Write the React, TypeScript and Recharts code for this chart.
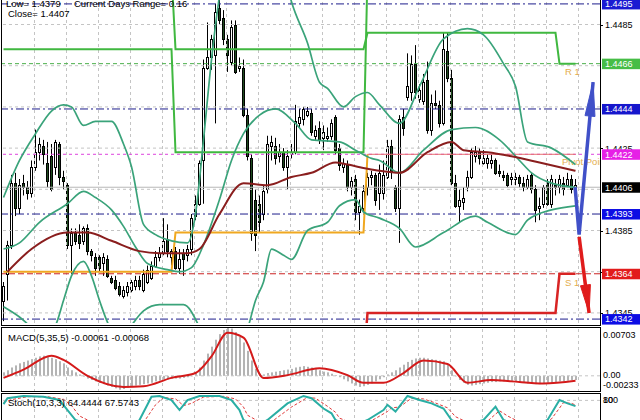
import React from 'react';
import { ComposedChart, Bar, Line, XAxis, YAxis, ReferenceLine } from 'recharts';

// ---------- price bars (M30), bar index 0..143 ----------
const barOpen = [1.4351,1.4364,1.4378,1.4408,1.4396,1.4408,1.4406,1.4403,1.4416,1.4423,
1.4426,1.4418,1.4421,1.4416,1.4427,1.4411,1.4407,1.4378,1.4384,1.4383,
1.4380,1.4386,1.4375,1.4372,1.4372,1.4369,1.4371,1.4362,1.4361,1.4358,
1.4353,1.4355,1.4356,1.4358,1.4361,1.4356,1.4360,1.4362,1.4368,1.4372,
1.4374,1.4381,1.4372,1.4375,1.4367,1.4374,1.4373,1.4376,1.4392,1.4398,
1.4419,1.4464,1.4469,1.4470,1.4493,1.4488,1.4478,1.4467,1.4485,1.4464,
1.4464,1.4441,1.4420,1.4400,1.4398,1.4393,1.4405,1.4426,1.4426,1.4421,
1.4423,1.4416,1.4422,1.4423,1.4437,1.4439,1.4441,1.4442,1.4431,1.4435,
1.4430,1.4430,1.4431,1.4440,1.4425,1.4416,1.4417,1.4406,1.4410,1.4394,
1.4396,1.4406,1.4411,1.4412,1.4403,1.4403,1.4411,1.4426,1.4406,1.4396,
1.4440,1.4450,1.4452,1.4466,1.4449,1.4448,1.4458,1.4434,1.4447,1.4446,
1.4437,1.4472,1.4459,1.4408,1.4397,1.4399,1.4406,1.4411,1.4421,1.4423,
1.4418,1.4418,1.4418,1.4419,1.4414,1.4412,1.4412,1.4410,1.4410,1.4411,
1.4408,1.4406,1.4412,1.4405,1.4396,1.4398,1.4408,1.4398,1.4407,1.4406,
1.4408,1.4407,1.4410,1.4405];
const barHigh = [1.4360,1.4380,1.4412,1.4413,1.4410,1.4412,1.4409,1.4419,1.4434,1.4430,
1.4429,1.4428,1.4427,1.4429,1.4428,1.4414,1.4408,1.4386,1.4386,1.4388,
1.4387,1.4388,1.4376,1.4374,1.4373,1.4374,1.4373,1.4363,1.4363,1.4360,
1.4358,1.4360,1.4361,1.4363,1.4363,1.4366,1.4368,1.4370,1.4375,1.4377,
1.4391,1.4388,1.4376,1.4377,1.4376,1.4376,1.4378,1.4393,1.4402,1.4419,
1.4468,1.4486,1.4480,1.4495,1.4501,1.4492,1.4480,1.4487,1.4487,1.4469,
1.4468,1.4444,1.4422,1.4405,1.4402,1.4407,1.4431,1.4431,1.4430,1.4427,
1.4425,1.4424,1.4427,1.4446,1.4444,1.4445,1.4445,1.4444,1.4436,1.4438,
1.4436,1.4435,1.4439,1.4441,1.4427,1.4420,1.4419,1.4411,1.4412,1.4400,
1.4407,1.4413,1.4414,1.4413,1.4417,1.4419,1.4429,1.4429,1.4407,1.4441,
1.4444,1.4471,1.4470,1.4475,1.4456,1.4461,1.4467,1.4451,1.4453,1.4448,
1.4481,1.4481,1.4463,1.4412,1.4405,1.4406,1.4414,1.4425,1.4426,1.4425,
1.4424,1.4422,1.4422,1.4420,1.4417,1.4414,1.4413,1.4413,1.4413,1.4412,
1.4411,1.4412,1.4413,1.4407,1.4401,1.4407,1.4410,1.4412,1.4410,1.4412,
1.4411,1.4413,1.4412,1.4410];
const barLow = [1.4341,1.4351,1.4376,1.4392,1.4393,1.4402,1.4400,1.4401,1.4414,1.4419,
1.4417,1.4406,1.4404,1.4412,1.4407,1.4405,1.4376,1.4364,1.4378,1.4376,
1.4378,1.4373,1.4370,1.4363,1.4365,1.4363,1.4362,1.4359,1.4356,1.4353,
1.4352,1.4353,1.4355,1.4356,1.4356,1.4355,1.4359,1.4361,1.4367,1.4370,
1.4373,1.4372,1.4368,1.4366,1.4364,1.4363,1.4370,1.4373,1.4390,1.4397,
1.4398,1.4463,1.4463,1.4437,1.4485,1.4475,1.4462,1.4465,1.4461,1.4462,
1.4440,1.4419,1.4380,1.4375,1.4384,1.4390,1.4403,1.4419,1.4417,1.4418,
1.4414,1.4405,1.4420,1.4422,1.4435,1.4436,1.4440,1.4431,1.4429,1.4427,
1.4424,1.4428,1.4429,1.4422,1.4414,1.4413,1.4404,1.4402,1.4390,1.4383,
1.4394,1.4402,1.4407,1.4397,1.4395,1.4400,1.4410,1.4410,1.4394,1.4379,
1.4431,1.4448,1.4448,1.4449,1.4447,1.4446,1.4432,1.4431,1.4444,1.4435,
1.4436,1.4457,1.4407,1.4396,1.4389,1.4395,1.4404,1.4410,1.4418,1.4417,
1.4417,1.4415,1.4415,1.4412,1.4411,1.4409,1.4406,1.4407,1.4407,1.4406,
1.4404,1.4405,1.4403,1.4389,1.4390,1.4396,1.4397,1.4396,1.4402,1.4403,
1.4402,1.4406,1.4403,1.4404];
const barClose = [1.4358,1.4378,1.4408,1.4396,1.4407,1.4406,1.4403,1.4416,1.4423,1.4427,
1.4422,1.4409,1.4405,1.4428,1.4411,1.4409,1.4378,1.4384,1.4380,1.4379,
1.4386,1.4375,1.4373,1.4367,1.4367,1.4372,1.4363,1.4360,1.4357,1.4354,
1.4356,1.4358,1.4360,1.4361,1.4358,1.4364,1.4366,1.4368,1.4372,1.4374,
1.4380,1.4375,1.4375,1.4367,1.4371,1.4371,1.4376,1.4391,1.4398,1.4418,
1.4464,1.4469,1.4478,1.4491,1.4487,1.4478,1.4470,1.4484,1.4462,1.4465,
1.4441,1.4421,1.4384,1.4383,1.4389,1.4404,1.4427,1.4428,1.4420,1.4423,
1.4416,1.4421,1.4423,1.4438,1.4440,1.4444,1.4443,1.4433,1.4434,1.4429,
1.4433,1.4431,1.4437,1.4424,1.4417,1.4418,1.4406,1.4409,1.4394,1.4397,
1.4404,1.4411,1.4412,1.4400,1.4413,1.4412,1.4426,1.4414,1.4396,1.4439,
1.4435,1.4455,1.4466,1.4452,1.4453,1.4457,1.4434,1.4447,1.4446,1.4437,
1.4473,1.4459,1.4408,1.4397,1.4400,1.4401,1.4411,1.4423,1.4423,1.4420,
1.4420,1.4420,1.4419,1.4413,1.4413,1.4411,1.4407,1.4411,1.4411,1.4408,
1.4406,1.4410,1.4405,1.4395,1.4397,1.4406,1.4398,1.4410,1.4406,1.4410,
1.4405,1.4410,1.4405,1.4407];

// ---------- Bollinger bands & moving average: [bar, price] ----------
const bbUpper: [number, number][] = [[0,1.4401],[4,1.4419],[8,1.4432],[12,1.4443],[15,1.4446],[17,1.4445],[20,1.4436],[23,1.4438],[27,1.4438],[30,1.4427],[32,1.4416],[35,1.4388],[38,1.4383],[42,1.4380],[46,1.4379],[48,1.4393],[50,1.4429],[52,1.4468],[54,1.4499],[56,1.4520],[60,1.4535],[65,1.4535],[69,1.4520],[71,1.4503],[72,1.4496],[76,1.4476],[79,1.4457],[81,1.4454],[85,1.4445],[88,1.4450],[91,1.4452],[94,1.4446],[99,1.4437],[104,1.4455],[110,1.4478],[116,1.4483],[120,1.4480],[125,1.4466],[128,1.4455],[131,1.4428],[137,1.4425],[143,1.4417]];
const bbMiddle: [number, number][] = [[0,1.4376],[4,1.4379],[9,1.4389],[16,1.4398],[20,1.4404],[23,1.4401],[27,1.4395],[30,1.4387],[33,1.4377],[36,1.4369],[41,1.4366],[44,1.4365],[47,1.4367],[50,1.4378],[54,1.4400],[57,1.4419],[60,1.4432],[64,1.4441],[68,1.4444],[73,1.4437],[77,1.4429],[84,1.4428],[88,1.4424],[92,1.4420],[94,1.4419],[99,1.4413],[105,1.4424],[112,1.4434],[118,1.4435],[124,1.4429],[129,1.4419],[132,1.4413],[137,1.4408],[143,1.4406]];
const bbLower: [number, number][] = [[0,1.4348],[4,1.4343],[7,1.4338],[10,1.4334],[13,1.4339],[15,1.4351],[17,1.4363],[20,1.4370],[22,1.4363],[24,1.4351],[27,1.4337],[30,1.4334],[32,1.4339],[35,1.4346],[39,1.4349],[45,1.4349],[49,1.4338],[53,1.4317],[58,1.4322],[61,1.4337],[63,1.4351],[65,1.4360],[67,1.4376],[70,1.4373],[72,1.4371],[76,1.4385],[81,1.4389],[84,1.4397],[88,1.4400],[90,1.4394],[94,1.4391],[99,1.4386],[103,1.4377],[110,1.4384],[118,1.4392],[121,1.4389],[128,1.4383],[131,1.4390],[137,1.4395],[143,1.4397]];
const maLine: [number, number][] = [[1,1.4365],[7,1.4376],[16,1.4384],[21,1.4384],[27,1.4380],[34,1.4375],[39,1.4374],[46,1.4374],[49,1.4376],[54,1.4393],[60,1.4408],[66,1.4407],[72,1.4411],[77,1.4413],[83,1.4418],[86,1.4417],[91,1.4415],[94,1.4414],[99,1.4413],[106,1.4423],[112,1.4428],[115,1.4424],[121,1.4423],[127,1.4421],[134,1.4418],[143,1.4414]];

// ---------- daily level step lines ----------
const dayLineHigh: [number, number][] = [[0,1.4510],[42,1.4510],[43,1.4473],[90,1.4473],[91,1.4481],[138,1.4481],[139,1.4466],[143,1.4466]];
const dayLineLow: [number, number][] = [[0,1.4473],[42,1.4473],[43,1.4423],[90,1.4423],[91,1.4510]];
const dayPivot: [number, number][] = [[0,1.4365],[42,1.4365],[43,1.4384],[90,1.4384],[91,1.4422]];
const dayPivotThin: [number, number][] = [[91,1.4422],[143,1.4422]];
const daySupport: [number, number][] = [[90,1.4320],[91,1.4345],[138,1.4345],[139,1.4364],[143,1.4364]];
const arrowUp: [number, number][] = [[142.9,1.4406],[143.9,1.4383],[147.4,1.4457]];
const arrowDown: [number, number][] = [[143.9,1.4382],[146.4,1.4345]];

// ---------- levels & ticks ----------
const navyLevels = [1.4495, 1.4444, 1.4393, 1.4342];
const levelR1 = 1.4466;
const levelPivot = 1.4422;
const levelS1 = 1.4364;
const levelClose = 1.4406;
const gridPrices = [1.4485, 1.4465, 1.4445, 1.4425, 1.4405, 1.4385, 1.4365, 1.4345];
const priceTicks = [1.4485, 1.4425, 1.4385, 1.4365, 1.4345];
const boxLevels = [1.4495, 1.4466, 1.4444, 1.4422, 1.4406, 1.4393, 1.4364, 1.4342];
const boxColors = ['#1a1ad2', '#46bd46', '#1616cc', '#e620e6', '#000000', '#0c0ce4', '#e21c1c', '#0c0ce4'];
const gridBars = [7.75,15.75,23.75,31.75,39.75,47.75,55.75,63.75,71.75,79.75,87.75,95.75,103.75,111.75,119.75,127.75,135.75,143.75];

// ---------- MACD ----------
const macdHist = [0.0005,0.0008,0.0012,0.0015,0.0018,0.0020,0.0022,0.0024,0.0026,0.0028,
0.0029,0.0028,0.0026,0.0024,0.0021,0.0018,0.0012,0.0008,0.0005,0.0002,
-0.0001,-0.0004,-0.0006,-0.0008,-0.0010,-0.0012,-0.0014,-0.0016,-0.0018,-0.0020,
-0.0019,-0.0017,-0.0015,-0.0014,-0.0013,-0.0012,-0.0011,-0.0010,-0.0008,-0.0007,
-0.0005,-0.0005,-0.0004,-0.0004,-0.0004,-0.0003,-0.0002,0.0000,0.0005,0.0012,
0.0022,0.0032,0.0042,0.0052,0.0060,0.0066,0.0070,0.0068,0.0063,0.0056,
0.0048,0.0036,0.0022,0.0010,0.0003,0.0002,0.0004,0.0005,0.0006,0.0007,
0.0008,0.0009,0.0010,0.0012,0.0013,0.0014,0.0013,0.0012,0.0010,0.0008,
0.0006,0.0005,0.0003,0.0001,-0.0002,-0.0005,-0.0008,-0.0011,-0.0014,-0.0016,
-0.0015,-0.0013,-0.0011,-0.0008,-0.0005,-0.0002,0.0002,0.0005,0.0008,0.0012,
0.0016,0.0020,0.0023,0.0025,0.0026,0.0026,0.0025,0.0024,0.0023,0.0022,
0.0021,0.0016,0.0008,0.0000,-0.0006,-0.0010,-0.0013,-0.0014,-0.0013,-0.0012,
-0.0011,-0.0010,-0.0009,-0.0009,-0.0008,-0.0008,-0.0008,-0.0009,-0.0009,-0.0010,
-0.0010,-0.0011,-0.0011,-0.0012,-0.0012,-0.0011,-0.0010,-0.0010,-0.0009,-0.0008,
-0.0008,-0.0007,-0.0006,-0.0006];
const macdSignal: [number, number][] = [[0,-0.0003],[5,0.0009],[12,0.0029],[15,0.0023],[21,0.0000],[30,-0.0016],[35,-0.0015],[42,-0.0003],[48,0.0004],[52,0.0028],[56,0.0062],[60,0.0055],[65,-0.0003],[71,0.0001],[79,0.0011],[86,0.0001],[90,-0.0010],[95,-0.0010],[100,0.0004],[105,0.0022],[111,0.0017],[116,-0.0010],[122,-0.0006],[127,-0.0008],[135,-0.0011],[143,-0.0007]];
const macdTicks = [0.00703, 0, -0.00233];

// ---------- Stochastic ----------
const stochMain: [number, number][] = [[0,70],[1,86],[5,92],[10,90],[14,81],[16,54],[18,27],[22,12],[28,8],[33,15],[34,27],[37,90],[39,92],[42,81],[44,54],[46,81],[49,92],[54,92],[57,81],[59,54],[60,27],[63,10],[66,27],[71,72],[75,92],[77,86],[80,58],[82,45],[83,27],[86,12],[89,18],[91,27],[95,54],[96,68],[98,50],[101,92],[104,81],[107,72],[110,58],[112,27],[115,12],[120,27],[123,63],[125,27],[128,15],[133,12],[136,27],[139,81],[141,72],[143,64.4444]];
const stochSignal: [number, number][] = [[0,75],[2,82],[6,90],[11,90],[15,83],[17,66],[19,38],[23,16],[30,10],[35,20],[38,68],[40,88],[43,84],[45,66],[47,72],[50,89],[55,91],[58,84],[60,62],[61,40],[65,16],[67,22],[72,62],[76,88],[78,86],[81,64],[83,48],[84,32],[88,15],[92,25],[96,50],[97,60],[99,62],[102,86],[105,84],[108,73],[111,60],[113,36],[117,15],[121,24],[124,52],[126,38],[130,16],[135,18],[137,30],[140,74],[142,72],[143,67.5743]];
const stochTicks = [100, 80];

// ---------- texts ----------
const headerLow = 'Low= 1.4379';
const headerRange = 'Current Days Range= 0.16';
const headerClose = 'Close= 1.4407';
const macdTitle = 'MACD(5,35,5) -0.00061 -0.00068';
const stochTitle = 'Stoch(10,3,3) 64.4444 67.5743';

// ---------- setup ----------
const FONT = '"Liberation Sans", Arial, sans-serif';
const FS = 9.5;
const AFS = 9;
const X_DOMAIN: [number, number] = [-0.375, 149.125];
const PRICE_DOMAIN: [number, number] = [1.43401, 1.44969];
const MACD_DOMAIN: [number, number] = [-0.00233, 0.00703];

const candles = barOpen.map((o, i) => ({ i, o, h: barHigh[i], l: barLow[i], c: barClose[i], range: [barLow[i], barHigh[i]] }));
const macdData = macdHist.map((m, i) => ({ i, m }));
const pts = (a: [number, number][]) => a.map(([i, v]) => ({ i, v }));

const Candle = (props: any) => {
  const { x, y, width, height, payload } = props;
  if (!payload || x == null) return <g />;
  const cx = x + width / 2;
  const col = Math.floor(cx);
  const top = Math.min(y, y + height);
  const hh = Math.abs(height);
  const { o, h, l, c } = payload;
  const span = h - l || 1e-9;
  const py = (p: number) => top + ((h - p) / span) * hh;
  const bt = Math.round(Math.min(py(o), py(c)));
  const bb = Math.round(Math.max(py(o), py(c)));
  const bull = c >= o;
  return (
    <g>
      <line x1={col + 0.5} x2={col + 0.5} y1={py(h)} y2={py(l)} stroke="#000" strokeWidth={1} />
      <rect x={col - 0.5} y={bt + 0.5} width={2} height={Math.max(bb - bt, 1)} fill={bull ? '#ffffff' : '#1d4a1d'} stroke="#000" strokeWidth={1} />
    </g>
  );
};

const HistBar = (props: any) => {
  const { x, y, width, height } = props;
  if (x == null) return <g />;
  const col = Math.floor(x + width / 2);
  const top = Math.min(y, y + height);
  return <rect x={col} y={top} width={2} height={Math.max(Math.abs(height), 0.5)} fill="#b4b4b4" />;
};

const ArrowHead = (props: any) => {
  const { cx, cy, index, points, stroke, len = 30, half = 4 } = props;
  if (!points || index !== points.length - 1 || index === 0) return <g />;
  const p = points[index - 1];
  const dx = cx - p.x, dy = cy - p.y;
  const d = Math.hypot(dx, dy) || 1;
  const ux = dx / d, uy = dy / d;
  const bx = cx - ux * len, by = cy - uy * len;
  const nx = -uy * half, ny = ux * half;
  return <polygon points={`${cx},${cy} ${bx + nx},${by + ny} ${bx - nx},${by - ny}`} fill={stroke} stroke={stroke} strokeWidth={1} />;
};

const PriceTick = (props: any) => {
  const { x, y, payload } = props;
  const v = payload.value;
  const k = boxLevels.indexOf(v);
  const label = Number(v).toFixed(4);
  if (k >= 0) {
    return (
      <g>
        <rect x={x + 2} y={y - 5} width={38} height={10.5} fill={boxColors[k]} />
        <text x={x + 5} y={y + 3.4} fill="#fff" fontSize={AFS} fontFamily={FONT}>{label}</text>
      </g>
    );
  }
  return (
    <g>
      <line x1={x} x2={x + 3} y1={Math.round(y) + 0.5} y2={Math.round(y) + 0.5} stroke="#000" />
      <text x={x + 5} y={y + 3.4} fill="#000" fontSize={AFS} fontFamily={FONT}>{label}</text>
    </g>
  );
};

const MacdTick = (props: any) => {
  const { x, y, payload } = props;
  const v = payload.value;
  const shift = v === MACD_DOMAIN[1] ? 10.5 : v === MACD_DOMAIN[0] ? -4 : 2.5;
  const label = v === 0 ? '0.00' : Number(v).toFixed(5);
  return <text x={x + 3} y={y + shift} fill="#000" fontSize={AFS} fontFamily={FONT}>{label}</text>;
};

const StochTick = (props: any) => {
  const { x, y, payload } = props;
  const v = payload.value;
  const shift = v === 100 ? 10 : 3;
  return <text x={x + 3} y={y + shift} fill="#000" fontSize={AFS} fontFamily={FONT}>{String(v)}</text>;
};

const LevelText = (props: any) => {
  const { viewBox, text, dx, dy } = props;
  if (!viewBox) return <g />;
  return (
    <svg x={viewBox.x} y={viewBox.y - 20} width={viewBox.width} height={40} overflow="hidden">
      <text x={viewBox.width + dx} y={20 + dy} fill="#e3ad4e" fontSize={FS} fontFamily={FONT}>{text}</text>
    </svg>
  );
};

const gridStroke = '#c4c4c4';

const vGrid = gridBars.map((g) => (
  <ReferenceLine key={'vg' + g} x={g} stroke={gridStroke} strokeDasharray="3 3" />
));

export default function App() {
  return (
    <div style={{ position: 'absolute', left: 0, top: 0, width: 640, height: 420, overflow: 'hidden', background: '#fff' }}>
      {/* main price window */}
      <div style={{ position: 'absolute', left: 0, top: 0 }}>
        <ComposedChart width={640} height={325} data={candles} margin={{ top: 0, right: 0, bottom: 2, left: 2 }}>
          <XAxis type="number" dataKey="i" domain={X_DOMAIN} allowDataOverflow hide />
          <YAxis orientation="right" width={40} domain={PRICE_DOMAIN} allowDataOverflow
            ticks={[...priceTicks, ...boxLevels]} interval={0} tickLine={false} axisLine={false}
            tickSize={0} tickMargin={0} tick={<PriceTick />} />
          {vGrid}
          {gridPrices.map((p) => (
            <ReferenceLine key={'hg' + p} y={p} stroke={gridStroke} strokeDasharray="3 3" />
          ))}
          <ReferenceLine y={levelClose} stroke="#b8b8b8" strokeWidth={1} />
          {navyLevels.map((p) => (
            <ReferenceLine key={'nv' + p} y={p} stroke="#1e1e8c" strokeDasharray="8 3 2 3" strokeWidth={1} />
          ))}
          <ReferenceLine y={levelR1} stroke="#4cb04c" strokeDasharray="4 3" label={<LevelText text="R 1" dx={-35} dy={11} />} />
          <ReferenceLine y={levelPivot} stroke="#dd44dd" strokeDasharray="3 3" label={<LevelText text="Pivot Point" dx={-38} dy={11} />} />
          <ReferenceLine y={levelS1} stroke="#cc2222" strokeDasharray="6 3" label={<LevelText text="S 1" dx={-35} dy={12} />} />

          <Line data={pts(dayLineHigh)} dataKey="v" type="linear" stroke="#40b840" strokeWidth={2} dot={false} isAnimationActive={false} />
          <Line data={pts(dayLineLow)} dataKey="v" type="linear" stroke="#40b840" strokeWidth={2} dot={false} isAnimationActive={false} />
          <Line data={pts(dayPivot)} dataKey="v" type="linear" stroke="#f0a820" strokeWidth={2} dot={false} isAnimationActive={false} />
          <Line data={pts(dayPivotThin)} dataKey="v" type="linear" stroke="#e67070" strokeWidth={1} dot={false} isAnimationActive={false} />
          <Line data={pts(daySupport)} dataKey="v" type="linear" stroke="#d82424" strokeWidth={2.5} dot={false} isAnimationActive={false} />

          <Line data={pts(bbUpper)} dataKey="v" type="monotone" stroke="#3aa37a" strokeWidth={1.7} dot={false} isAnimationActive={false} />
          <Line data={pts(bbMiddle)} dataKey="v" type="monotone" stroke="#3aa37a" strokeWidth={1.7} dot={false} isAnimationActive={false} />
          <Line data={pts(bbLower)} dataKey="v" type="monotone" stroke="#3aa37a" strokeWidth={1.7} dot={false} isAnimationActive={false} />
          <Line data={pts(maLine)} dataKey="v" type="monotone" stroke="#8a1e1e" strokeWidth={2} dot={false} isAnimationActive={false} />

          <Bar dataKey="range" barSize={3} shape={<Candle />} isAnimationActive={false} />

          <Line data={pts(arrowUp)} dataKey="v" type="linear" stroke="#4050c8" strokeWidth={3.5} dot={<ArrowHead len={34} half={5} />} activeDot={false} isAnimationActive={false} />
          <Line data={pts(arrowDown)} dataKey="v" type="linear" stroke="#e01c1c" strokeWidth={3.5} dot={<ArrowHead len={28} half={5} />} activeDot={false} isAnimationActive={false} />
        </ComposedChart>
      </div>

      {/* MACD window */}
      <div style={{ position: 'absolute', left: 0, top: 327 }}>
        <ComposedChart width={640} height={65} data={macdData} margin={{ top: 0, right: 0, bottom: 0, left: 2 }}>
          <XAxis type="number" dataKey="i" domain={X_DOMAIN} allowDataOverflow hide />
          <YAxis orientation="right" width={40} domain={MACD_DOMAIN} allowDataOverflow ticks={macdTicks}
            interval={0} tickLine={false} axisLine={false} tickSize={0} tickMargin={0} tick={<MacdTick />} />
          {vGrid}
          <ReferenceLine y={0} stroke={gridStroke} strokeDasharray="3 3" />
          <Bar dataKey="m" barSize={2} shape={<HistBar />} isAnimationActive={false} />
          <Line data={pts(macdSignal)} dataKey="v" type="monotone" stroke="#d41a1a" strokeWidth={2} dot={false} isAnimationActive={false} />
        </ComposedChart>
      </div>

      {/* Stochastic window */}
      <div style={{ position: 'absolute', left: 0, top: 393 }}>
        <ComposedChart width={640} height={37} margin={{ top: 0, right: 0, bottom: 0, left: 2 }}>
          <XAxis type="number" dataKey="i" domain={X_DOMAIN} allowDataOverflow hide />
          <YAxis orientation="right" width={40} domain={[0, 100]} allowDataOverflow ticks={stochTicks}
            interval={0} tickLine={false} axisLine={false} tickSize={0} tickMargin={0} tick={<StochTick />} />
          {vGrid}
          <ReferenceLine y={80} stroke={gridStroke} strokeDasharray="3 3" />
          <Line data={pts(stochSignal)} dataKey="v" type="linear" stroke="#e03a3a" strokeWidth={1} strokeDasharray="3 2" dot={false} isAnimationActive={false} />
          <Line data={pts(stochMain)} dataKey="v" type="linear" stroke="#2aaea4" strokeWidth={2} dot={false} isAnimationActive={false} />
        </ComposedChart>
      </div>

      {/* window frames */}
      <div style={{ position: 'absolute', left: 1, top: -1, width: 600, height: 327, border: '1px solid #000', boxSizing: 'border-box', pointerEvents: 'none' }} />
      <div style={{ position: 'absolute', left: 1, top: 327, width: 600, height: 65, border: '1px solid #000', boxSizing: 'border-box', pointerEvents: 'none' }} />
      <div style={{ position: 'absolute', left: 1, top: 393, width: 600, height: 40, border: '1px solid #000', boxSizing: 'border-box', pointerEvents: 'none' }} />

      {/* window captions */}
      <svg width={640} height={420} style={{ position: 'absolute', left: 0, top: 0, pointerEvents: 'none' }}>
        <g fontFamily={FONT} fontSize={FS} fill="#000">
          <text x={6} y={6.5}>{headerLow}</text>
          <text x={74} y={6.5}>{headerRange}</text>
          <text x={8} y={17}>{headerClose}</text>
          <text x={8} y={341}>{macdTitle}</text>
          <text x={8} y={406}>{stochTitle}</text>
        </g>
      </svg>
    </div>
  );
}
